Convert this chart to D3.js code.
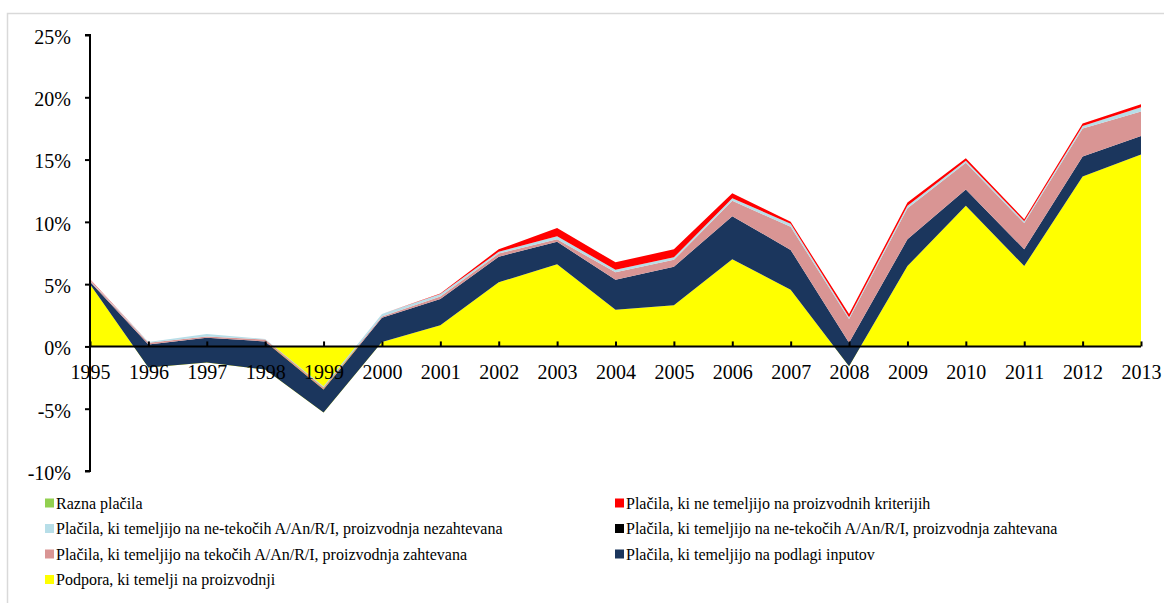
<!DOCTYPE html>
<html>
<head>
<meta charset="utf-8">
<script src="https://cdn.jsdelivr.net/npm/d3@7"></script>
<style>
body { margin: 0; background: #fff; }
text { font-family: "Liberation Serif", "Times New Roman", serif; fill: #000; }
</style>
</head>
<body>
<div id="chart"></div>
<script>
// years and stacked series (share of gross farm receipts, %)
var years = [1995,1996,1997,1998,1999,2000,2001,2002,2003,2004,2005,2006,2007,2008,2009,2010,2011,2012,2013];
var podpora = [5.0,-1.7,-1.3,-1.85,-5.3,0.35,1.7,5.15,6.6,2.95,3.3,7.0,4.55,-1.6,6.45,11.3,6.45,13.65,15.4];
var inputi = [0.2,1.85,2.0,2.25,1.85,1.95,2.1,2.05,1.8,2.4,3.1,3.45,3.2,1.9,2.15,1.3,1.35,1.6,1.5];
var tekoci = [0.1,0.15,0.1,0.15,0.15,0.1,0.2,0.25,0.2,0.6,0.55,1.25,1.85,1.9,2.5,2.15,2.1,2.25,1.95];
var netekociZaht = [0,0,0,0,0,0,0,0,0,0,0,0,0,0,0,0,0,0,0];
var netekociNezaht = [0.05,0.05,0.2,0.05,0.1,0.2,0.2,0.15,0.25,0.2,0.2,0.2,0.25,0.15,0.2,0.15,0.15,0.2,0.35];
var neProizv = [0.05,0,0,0,0,0,0.05,0.2,0.65,0.6,0.65,0.4,0.15,0.25,0.25,0.2,0.15,0.2,0.25];
var razna = [0,0,0,0,0,0,0,0,0,0,0,0,0,0,0,0,0,0,0];
var yTicks = [25,20,15,10,5,0,-5,-10];

var series = [
  {key: "podpora", name: "Podpora, ki temelji na proizvodnji", color: "#ffff00", values: podpora},
  {key: "inputi", name: "Plačila, ki temeljijo na podlagi inputov", color: "#1b365d", values: inputi},
  {key: "tekoci", name: "Plačila, ki temeljijo na tekočih A/An/R/I, proizvodnja zahtevana", color: "#d99594", values: tekoci},
  {key: "netekociZaht", name: "Plačila, ki temeljijo na ne-tekočih A/An/R/I, proizvodnja zahtevana", color: "#000000", values: netekociZaht},
  {key: "netekociNezaht", name: "Plačila, ki temeljijo na ne-tekočih A/An/R/I, proizvodnja nezahtevana", color: "#b7dee8", values: netekociNezaht},
  {key: "neProizv", name: "Plačila, ki ne temeljijo na proizvodnih kriterijih", color: "#ff0000", values: neProizv},
  {key: "razna", name: "Razna plačila", color: "#92d050", values: razna}
];

var table = years.map(function(y, i) {
  var row = {year: y};
  series.forEach(function(s) { row[s.key] = s.values[i]; });
  return row;
});

var W = 1164, H = 603;
var svg = d3.select("#chart").append("svg")
  .attr("width", W).attr("height", H);

// outer chart frame
svg.append("rect")
  .attr("x", 7.5).attr("y", 13.5)
  .attr("width", W).attr("height", H)
  .attr("fill", "none").attr("stroke", "#d9d9d9").attr("stroke-width", 1.5);

var x = d3.scaleLinear().domain([1995, 2013]).range([90, 1141]);
var y = d3.scaleLinear().domain([-10, 25]).range([471, 35]);

var stack = d3.stack()
  .keys(series.map(function(s) { return s.key; }))
  .offset(d3.stackOffsetNone);
var layers = stack(table);

var area = d3.area()
  .x(function(d) { return x(d.data.year); })
  .y0(function(d) { return y(d[0]); })
  .y1(function(d) { return y(d[1]); });

svg.append("g").selectAll("path")
  .data(layers)
  .enter().append("path")
  .attr("d", area)
  .attr("fill", function(d, i) { return series[i].color; });

// Y axis
var yAxis = svg.append("g")
  .attr("transform", "translate(90,0)")
  .call(d3.axisLeft(y).tickValues(yTicks).tickSize(5).tickPadding(14)
    .tickFormat(function(d) { return d + "%"; }));
yAxis.select(".domain").attr("stroke-width", 2).attr("d", "M-5," + y(25) + "H0V" + y(-10) + "H-5");
yAxis.selectAll(".tick line").attr("stroke-width", 2);
yAxis.selectAll("text").style("font-size", "20px")
  .style("font-family", "Liberation Serif").attr("dy", "0.42em");

// X axis at zero
var xAxis = svg.append("g")
  .attr("transform", "translate(0," + y(0) + ")")
  .call(d3.axisBottom(x).tickValues(years).tickSize(-5).tickPadding(18)
    .tickFormat(d3.format("d")));
xAxis.select(".domain").attr("stroke-width", 2).attr("d", "M90,0H1141");
xAxis.selectAll(".tick line").attr("stroke-width", 2);
xAxis.selectAll("text").style("font-size", "20px")
  .style("font-family", "Liberation Serif");

// legend
var legendOrder = ["razna","neProizv","netekociNezaht","netekociZaht","tekoci","inputi","podpora"];
var legend = svg.append("g");
legendOrder.forEach(function(k, i) {
  var s = series.filter(function(d) { return d.key === k; })[0];
  var col = i % 2, row = Math.floor(i / 2);
  var lx = col === 0 ? 45 : 615;
  var ly = 503 + row * 25.5;
  legend.append("rect")
    .attr("x", lx).attr("y", ly - 4.5)
    .attr("width", 9).attr("height", 9)
    .attr("fill", s.color);
  legend.append("text")
    .attr("x", lx + 11).attr("y", ly)
    .attr("dy", "0.35em")
    .style("font-size", "16px")
    .text(s.name);
});
</script>
</body>
</html>
